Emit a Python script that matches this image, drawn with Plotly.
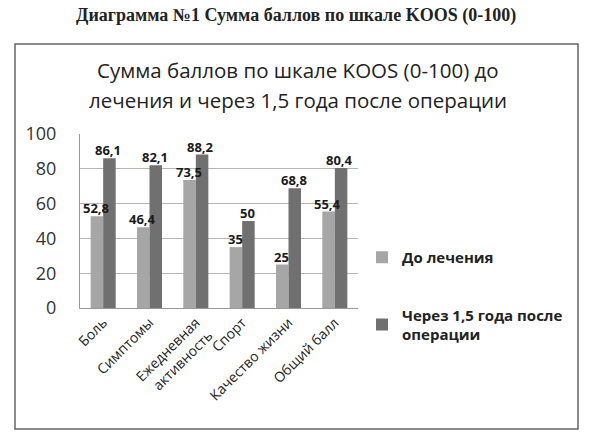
import plotly.graph_objects as go

categories = ["Боль", "Симптомы", "Ежедневная<br>активность", "Спорт", "Качество жизни", "Общий балл"]
before = [52.8, 46.4, 73.5, 35, 25, 55.4]
after = [86.1, 82.1, 88.2, 50, 68.8, 80.4]
series_names = ["До лечения", "Через 1,5 года после<br>операции"]
y_ticks = [0, 20, 40, 60, 80, 100]

FONT = "Open Sans"


def fmt(v):
    return ("%g" % v).replace(".", ",")


# plot area in window pixels: x 80..358, y 134..308
W, H = 593, 442
L, T = 80, 134
R, B = W - 358, H - 308
pw, ph = W - L - R, H - T - B


def px(x):
    return (x - L) / pw


def py(y):
    return (T + ph - y) / ph


fig = go.Figure()

fig.add_trace(go.Bar(
    x=categories, y=before, name=series_names[0], legendgroup="a",
    marker=dict(color="#a6a6a6", line=dict(width=0)),
))
fig.add_trace(go.Bar(
    x=categories, y=after, name=series_names[1], legendgroup="b",
    marker=dict(color="#707070", line=dict(width=0)),
))

# value labels drawn on top of every bar
for vals, shift in [(before, -7), (after, 5)]:
    for c, v in zip(categories, vals):
        fig.add_annotation(
            x=c, y=v, text="<b>" + fmt(v) + "</b>", xshift=shift, yshift=-3,
            xanchor="center", yanchor="bottom", showarrow=False,
            font=dict(family=FONT, size=13, color="#1a1a1a"),
        )

# outer frame of the chart
fig.add_shape(type="rect", xref="paper", yref="paper",
              x0=px(15), x1=px(578), y0=py(429), y1=py(44),
              line=dict(color="#666666", width=1.5), layer="below")

fig.add_annotation(
    text="<b>Диаграмма №1 Сумма баллов по шкале KOOS (0-100)</b>",
    xref="paper", yref="paper", x=px(296), y=py(15), xanchor="center", yanchor="middle",
    showarrow=False, font=dict(family="Liberation Serif", size=18, color="#222222"),
)
for line, yy in [("Сумма баллов по шкале KOOS (0-100) до", 70),
                 ("лечения и через 1,5 года после операции", 100)]:
    fig.add_annotation(
        text=line, xref="paper", yref="paper", x=px(298), y=py(yy),
        xanchor="center", yanchor="middle", showarrow=False,
        font=dict(family=FONT, size=20.5, color="#222222"),
    )

fig.update_layout(
    width=W, height=H,
    margin=dict(l=L, r=R, t=T, b=B, autoexpand=False),
    paper_bgcolor="white", plot_bgcolor="white",
    barmode="group", bargap=0.46, bargroupgap=0,
    showlegend=True,
    legend=dict(x=px(362), y=py(241), xanchor="left", yanchor="top",
                font=dict(family=FONT, size=15, color="#222222", weight="bold"),
                traceorder="grouped", tracegroupgap=35,
                bgcolor="rgba(0,0,0,0)"),
    font=dict(family=FONT),
)

fig.update_xaxes(
    tickangle=-45, showline=True, linecolor="#999999", linewidth=1,
    tickfont=dict(family=FONT, size=14, color="#222222"),
    ticks="", automargin=False,
)
fig.update_yaxes(
    range=[0, 100], tickvals=y_ticks, showgrid=True, gridcolor="#b5b5b5",
    showline=True, linecolor="#999999", linewidth=1, zeroline=False,
    tickfont=dict(family=FONT, size=18, color="#333333"), ticks="",
    ticklabelstandoff=19, automargin=False,
)

fig.write_html("out.html", config={"displayModeBar": False},
               post_script="document.body.style.margin='0px';")
